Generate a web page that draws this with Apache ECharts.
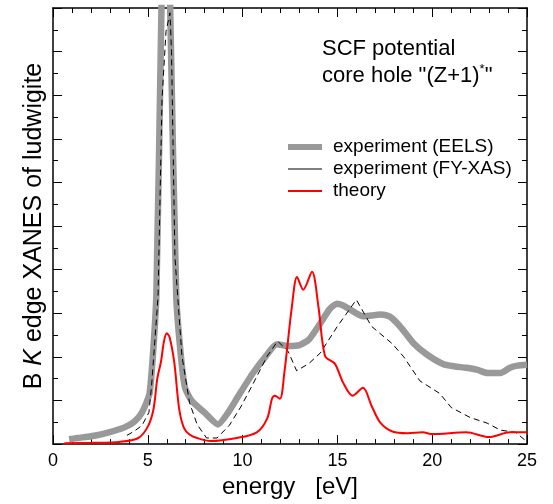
<!DOCTYPE html>
<html>
<head>
<meta charset="utf-8">
<script src="https://cdn.jsdelivr.net/npm/echarts@6/dist/echarts.min.js"></script>
<style>
html,body{margin:0;padding:0;background:#fff;}
#c{width:553px;height:504px;}
</style>
</head>
<body>
<div id="c"></div>
<script>
// energy [eV] vs intensity (arb. units)
var eelsData = [[0.85,0.11],[1.3,0.14],[2.0,0.18],[2.6,0.23],[3.2,0.30],[3.8,0.39],[4.3,0.52],[4.7,0.73],[5.1,1.18],[5.45,3.4],[5.72,10.0],[5.85,11.5],[6.1,11.5],[6.18,10.0],[6.5,3.4],[6.75,2.0],[6.96,1.3],[7.3,1.0],[8.0,0.72],[8.7,0.45],[9.2,0.7],[9.8,1.12],[10.55,1.63],[11.2,2.0],[11.8,2.29],[12.4,2.25],[13.0,2.27],[13.5,2.4],[14.1,2.77],[14.6,3.1],[14.98,3.22],[15.3,3.18],[15.7,3.08],[16.35,2.93],[16.8,2.95],[17.25,2.97],[17.6,2.95],[17.9,2.88],[18.4,2.65],[19.0,2.32],[19.7,2.06],[20.6,1.83],[21.2,1.78],[21.8,1.75],[22.4,1.70],[22.9,1.63],[23.6,1.63],[24.1,1.75],[24.5,1.80],[25.0,1.82]];
var fyxasData = [[3.9,0.2],[4.3,0.3],[4.7,0.43],[5.06,0.73],[5.2,1.34],[5.54,3.38],[5.75,7.9],[5.96,9.46],[6.17,9.89],[6.25,9.0],[6.43,4.29],[6.8,2.02],[7.2,0.95],[7.6,0.45],[8.1,0.14],[8.65,0.14],[9.3,0.43],[9.9,0.85],[10.5,1.34],[11.3,2.02],[11.85,2.36],[12.4,2.13],[12.85,1.68],[13.5,1.85],[14.1,2.09],[15.0,2.70],[16.0,3.31],[16.8,2.70],[17.9,2.30],[18.5,2.0],[19.35,1.45],[20.4,1.16],[21.0,0.84],[22.0,0.61],[22.9,0.48],[23.6,0.32],[24.4,0.27],[24.9,0.09]];
var theoryData = [[0.6,0.02],[2.0,0.03],[3.5,0.05],[4.5,0.14],[5.0,0.40],[5.3,0.80],[5.5,1.50],[5.7,1.90],[5.85,2.35],[6.0,2.54],[6.15,2.45],[6.4,1.86],[6.65,0.82],[6.9,0.38],[7.2,0.22],[7.6,0.14],[8.3,0.07],[9.7,0.14],[10.75,0.27],[11.3,0.59],[11.55,1.04],[11.7,1.11],[11.97,1.04],[12.2,1.63],[12.6,3.15],[12.87,3.83],[13.2,3.54],[13.66,3.95],[14.0,3.15],[14.35,2.02],[14.87,1.84],[15.3,1.41],[15.8,1.11],[16.35,1.29],[16.8,0.88],[17.25,0.50],[17.9,0.29],[18.7,0.25],[19.5,0.27],[20.0,0.23],[21.8,0.27],[23.0,0.16],[24.1,0.27],[25.0,0.27]];
var seriesNames = ['experiment (EELS)','experiment (FY-XAS)','theory'];
var xTicks = {min:0, max:25, interval:5};
var yTicks = {min:0, max:10, interval:1};

var FONT = 'Liberation Sans, Arial, Helvetica, sans-serif';
var chart = echarts.init(document.getElementById('c'), null, {renderer:'canvas'});

function xAxisDef(pos, showLabel, name){
  return {
    type:'value', position:pos, min:xTicks.min, max:xTicks.max, interval:xTicks.interval,
    name: name || '', nameLocation:'middle', nameGap:26,
    nameTextStyle:{fontSize:24, color:'#000', fontFamily:FONT},
    axisLine:{show:true, onZero:false, lineStyle:{color:'#000', width:1.5}},
    axisTick:{show:true, inside:true, length:9, lineStyle:{color:'#000', width:1}},
    minorTick:{show:true, splitNumber:5, length:5, lineStyle:{color:'#000', width:1}},
    axisLabel:{show:showLabel, fontSize:18, color:'#000', margin:8, fontFamily:FONT},
    splitLine:{show:false}, minorSplitLine:{show:false}
  };
}
function yAxisDef(pos, name){
  return {
    type:'value', position:pos, min:yTicks.min, max:yTicks.max, interval:yTicks.interval,
    name: name || '', nameLocation:'middle', nameGap:6, nameRotate:90,
    nameTextStyle:{fontSize:25, color:'#000', fontFamily:FONT,
      rich:{i:{fontSize:25, fontStyle:'italic', color:'#000', fontFamily:FONT}}},
    axisLine:{show:true, onZero:false, lineStyle:{color:'#000', width:1.5}},
    axisTick:{show:true, inside:true, length:9, lineStyle:{color:'#000', width:1}},
    minorTick:{show:true, splitNumber:2, length:5, lineStyle:{color:'#000', width:1}},
    axisLabel:{show:false},
    splitLine:{show:false}, minorSplitLine:{show:false}
  };
}

var option = {
  backgroundColor:'#fff',
  animation:false,
  grid:{left:53, right:26, top:8, bottom:55, containLabel:false},
  xAxis:[xAxisDef('bottom', true, 'energy   [eV]'), xAxisDef('top', false)],
  yAxis:[yAxisDef('left', 'B {i|K} edge XANES of ludwigite'), yAxisDef('right')],
  legend:{
    orient:'vertical', left:283, top:131, itemWidth:34, itemHeight:14, itemGap:0,
    textStyle:{fontSize:19, color:'#000', fontFamily:FONT, lineHeight:22, padding:[0,0,0,6]},
    data:[
      {name:seriesNames[0], icon:'path://M0,0h34v6h-34z', itemStyle:{color:'#999999'}},
      {name:seriesNames[1], icon:'path://M0,0h34v1h-34z', itemStyle:{color:'#000000'}},
      {name:seriesNames[2], icon:'path://M0,0h34v2h-34z', itemStyle:{color:'#ff0000'}}
    ]
  },
  graphic:[{
    type:'text', left:322, top:38,
    style:{
      text:'{a|SCF potential}\n{a|core hole "(Z+1)}{s|*}{a|"}',
      rich:{
        a:{fontSize:22, lineHeight:27, fill:'#000', fontFamily:FONT},
        s:{fontSize:13, lineHeight:13, verticalAlign:'top', fill:'#000', fontFamily:FONT}
      }
    }
  }],
  series:[
    {name:seriesNames[0], type:'line', data:eelsData, symbol:'none', smooth:0.2, clip:true,
     lineStyle:{color:'#999999', width:6.5}, itemStyle:{color:'#999999'}, z:1},
    {name:seriesNames[1], type:'line', data:fyxasData, symbol:'none', clip:true,
     lineStyle:{color:'#000', width:1, type:[6,4]}, itemStyle:{color:'#000'}, z:2},
    {name:seriesNames[2], type:'line', data:theoryData, symbol:'none', smooth:0.3, clip:true,
     lineStyle:{color:'#ff0000', width:2}, itemStyle:{color:'#ff0000'}, z:3}
  ]
};
chart.setOption(option);
</script>
</body>
</html>
